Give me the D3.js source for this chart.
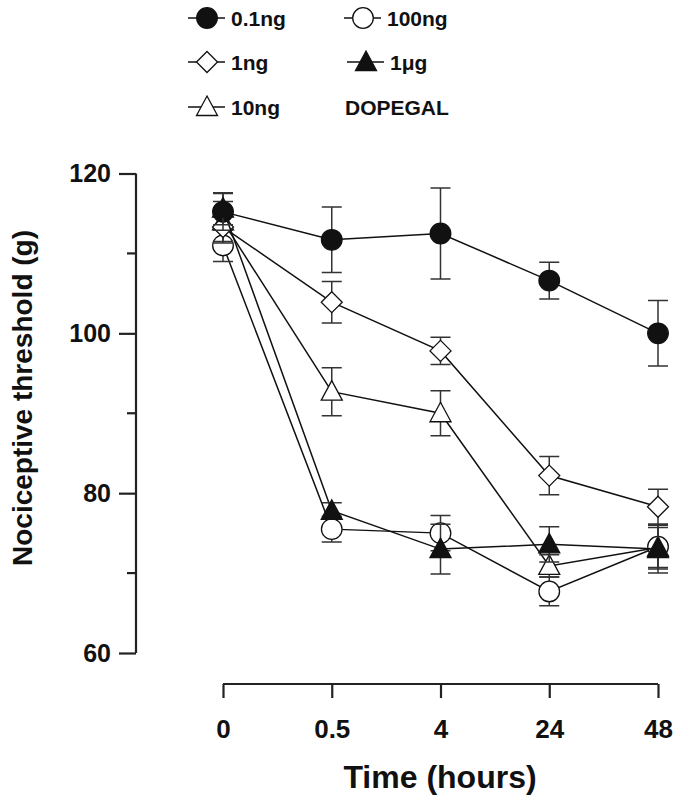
<!DOCTYPE html>
<html>
<head>
<meta charset="utf-8">
<script src="https://cdn.jsdelivr.net/npm/d3@7"></script>
<style>
  body { margin: 0; background: #fff; }
  svg text { font-family: "Liberation Sans", Arial, sans-serif; font-weight: bold; fill: #111; }
</style>
</head>
<body>
<svg id="chart" width="676" height="800"></svg>
<script>
// time points (categorical on the x axis)
const TIMES = ["0", "0.5", "4", "24", "48"];

// mean nociceptive threshold (g) and SEM per dose
const DOSE_01NG = [115.2, 111.7, 112.5, 106.6, 100.0];
const SEM_01NG  = [2.3, 4.1, 5.7, 2.3, 4.1];
const DOSE_1NG  = [113.3, 103.9, 97.8, 82.2, 78.3];
const SEM_1NG   = [2.0, 2.6, 1.7, 2.4, 2.2];
const DOSE_10NG = [114.0, 92.7, 90.0, 70.9, 73.2];
const SEM_10NG  = [2.5, 3.0, 2.8, 1.4, 2.5];
const DOSE_100NG = [111.0, 75.5, 75.0, 67.7, 73.3];
const SEM_100NG  = [2.0, 1.6, 2.2, 1.8, 2.8];
const DOSE_1UG  = [115.6, 77.8, 73.0, 73.6, 73.0];
const SEM_1UG   = [2.0, 1.0, 3.1, 2.2, 3.0];

const Y_TICKS = [60, 80, 100, 120];
const Y_MINOR = [70, 90, 110];

// draw order: later ones sit on top
const SERIES = [
    ["100ng", DOSE_100NG, SEM_100NG, "circle", false],
    ["10ng", DOSE_10NG, SEM_10NG, "triangle", false],
    ["1ng", DOSE_1NG, SEM_1NG, "diamond", false],
    ["0.1ng", DOSE_01NG, SEM_01NG, "circle", true],
    ["1\u03bcg", DOSE_1UG, SEM_1UG, "triangle", true],
];

const svg = d3.select("#chart");
const x = d3.scalePoint().domain(TIMES).range([223, 658]);
const y = d3.scaleLinear().domain([60, 120]).range([653, 173.5]);
const AXIS_X = 136;
const AXIS_Y = 684;

function symbolPath(shape) {
    if (shape === "circle") return d3.symbol(d3.symbolCircle, Math.PI * 10.3 * 10.3)();
    if (shape === "diamond") return "M0,-10.5L10.5,0L0,10.5L-10.5,0Z";
    // triangle, base 20 wide, 19 tall
    return "M0,-11L10.5,8.5L-10.5,8.5Z";
}

function drawMarker(g, shape, filled, cx, cy) {
    g.append("path")
        .attr("d", symbolPath(shape))
        .attr("transform", "translate(" + cx + "," + cy + ")")
        .attr("fill", filled ? "#111" : "#fff")
        .attr("stroke", "#111")
        .attr("stroke-width", 1.3);
}

// ---- y axis ----
let yAxis = svg.append("g").attr("transform", "translate(" + AXIS_X + ",0)");
yAxis.call(d3.axisLeft(y).tickValues(Y_TICKS).tickSize(17).tickPadding(8).tickFormat(d3.format("d")));
yAxis.select(".domain").attr("d", "M0," + y(60) + "V" + y(120)).attr("stroke", "#222").attr("stroke-width", 2.2);
yAxis.selectAll(".tick line").attr("stroke", "#222").attr("stroke-width", 2.2);
yAxis.selectAll(".tick text").attr("font-size", 25).attr("font-family", null).attr("fill", "#111");
yAxis.selectAll(".minor").data(Y_MINOR).enter().append("line")
    .attr("x1", -9).attr("x2", 0)
    .attr("y1", d => y(d)).attr("y2", d => y(d))
    .attr("stroke", "#222").attr("stroke-width", 2.2);

// ---- x axis ----
let xAxis = svg.append("g").attr("transform", "translate(0," + AXIS_Y + ")");
xAxis.call(d3.axisBottom(x).tickSize(14).tickPadding(22));
xAxis.select(".domain").attr("d", "M" + x("0") + ",0H" + x("48")).attr("stroke", "#222").attr("stroke-width", 2.2);
xAxis.selectAll(".tick line").attr("stroke", "#222").attr("stroke-width", 2.2);
xAxis.selectAll(".tick text").attr("font-size", 26).attr("font-family", null).attr("fill", "#111");

// ---- axis titles ----
svg.append("text")
    .attr("x", 440).attr("y", 788)
    .attr("text-anchor", "middle")
    .attr("font-size", 32)
    .text("Time (hours)");
svg.append("text")
    .attr("transform", "translate(32,398) rotate(-90)")
    .attr("text-anchor", "middle")
    .attr("font-size", 28)
    .text("Nociceptive threshold (g)");

// ---- series ----
for (let [name, means, sems, shape, filled] of SERIES) {
    let g = svg.append("g").attr("class", "series");
    let pts = TIMES.map((t, i) => [x(t), y(means[i]), sems[i], means[i]]);
    g.append("path")
        .attr("d", d3.line()(pts.map(p => [p[0], p[1]])))
        .attr("fill", "none")
        .attr("stroke", "#111")
        .attr("stroke-width", 1.5);
    for (let [px, py, s, m] of pts) {
        let top = y(m + s), bot = y(m - s);
        g.append("path")
            .attr("d", "M" + px + "," + top + "V" + bot +
                "M" + (px - 10) + "," + top + "H" + (px + 10) +
                "M" + (px - 10) + "," + bot + "H" + (px + 10))
            .attr("stroke", "#333")
            .attr("stroke-width", 1.5)
            .attr("fill", "none");
    }
    for (let [px, py] of pts) {
        drawMarker(g, shape, filled, px, py);
    }
}

// ---- legend ----
const LEGEND = [
    ["0.1ng", "circle", true, 207, 18],
    ["1ng", "diamond", false, 207, 62],
    ["10ng", "triangle", false, 207, 107],
    ["100ng", "circle", false, 363, 18],
    ["1\u03bcg", "triangle", true, 366, 62],
];
let legend = svg.append("g");
for (let [label, shape, filled, lx, ly] of LEGEND) {
    legend.append("line")
        .attr("x1", lx - 19).attr("x2", lx + 18)
        .attr("y1", ly).attr("y2", ly)
        .attr("stroke", "#111").attr("stroke-width", 1.3);
    drawMarker(legend, shape, filled, lx, ly);
    legend.append("text")
        .attr("x", lx + 24).attr("y", ly)
        .attr("dy", "0.36em")
        .attr("font-size", 21)
        .text(label);
}
legend.append("text")
    .attr("x", 345).attr("y", 107)
    .attr("dy", "0.36em")
    .attr("font-size", 21)
    .text("DOPEGAL");
</script>
</body>
</html>
